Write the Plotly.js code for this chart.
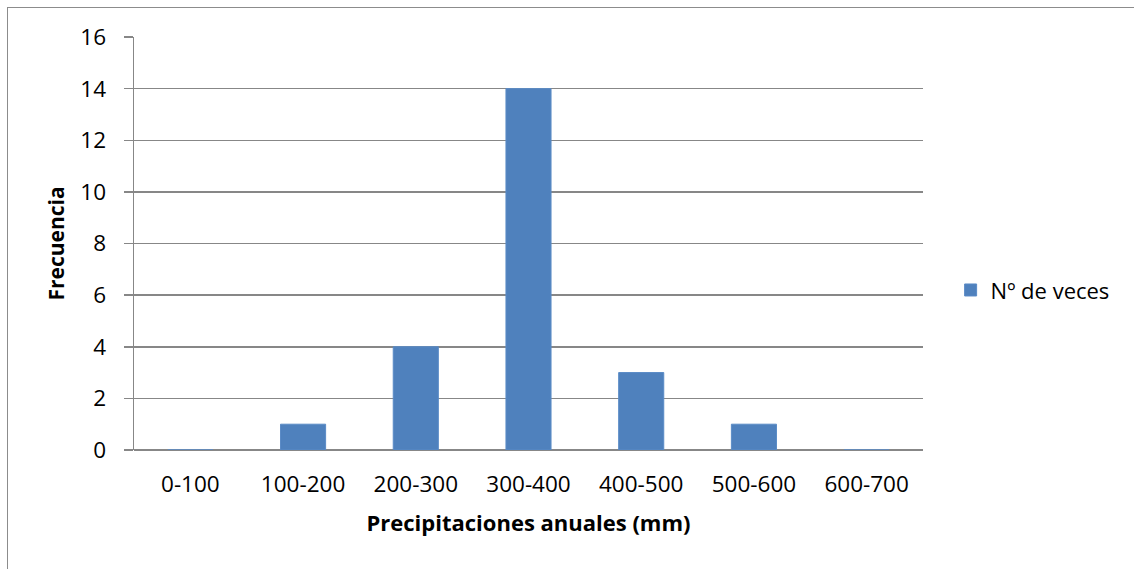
<!DOCTYPE html>
<html>
<head>
<meta charset="utf-8">
<script src="https://cdn.plot.ly/plotly-3.0.1.min.js"></script>
<style>
  html, body { margin: 0; padding: 0; background: #ffffff; overflow: hidden; }
  #chart { position: absolute; left: 0; top: 0; width: 1134px; height: 569px; }
  #frame { position: absolute; left: 7px; top: 7px; width: 1200px; height: 700px;
           border: 1.5px solid #8c8c8c; pointer-events: none; }
</style>
</head>
<body>
<div id="chart"></div>
<div id="frame"></div>
<script>
// Annual precipitation classes and how many years fell in each
const categories = ['0-100', '100-200', '200-300', '300-400', '400-500', '500-600', '600-700'];
const counts = [0, 1, 4, 14, 3, 1, 0];
const seriesName = 'Nº de veces';
const yTicks = [0, 2, 4, 6, 8, 10, 12, 14, 16];

const font = 'Open Sans, Noto Sans, sans-serif';
const gridColor = '#878787';

const trace = {
  type: 'bar',
  x: categories,
  y: counts,
  name: seriesName,
  marker: { color: '#4F81BD', line: { color: '#5a8bc6', width: 1 } },
  hoverinfo: 'x+y'
};

const layout = {
  width: 1134,
  height: 569,
  margin: { l: 134, r: 211, t: 37, b: 119 },
  paper_bgcolor: '#ffffff',
  plot_bgcolor: '#ffffff',
  font: { family: font, size: 22, color: '#000000' },
  bargap: 0.6,
  showlegend: true,
  legend: {
    x: 1.035, y: 0.387, xanchor: 'left', yanchor: 'middle',
    font: { family: font, size: 22, color: '#000000' },
    itemwidth: 30, bgcolor: 'rgba(0,0,0,0)'
  },
  xaxis: {
    type: 'category',
    tickfont: { family: font, size: 22.5 },
    showgrid: false,
    showline: false,
    ticks: '',
    ticklabelstandoff: 18,
    zeroline: false,
    title: { text: '<b>Precipitaciones anuales (mm)</b>', font: { family: font, size: 22 }, standoff: 18 }
  },
  yaxis: {
    range: [0, 16],
    tickvals: yTicks,
    ticktext: yTicks.map(String),
    tickfont: { family: font, size: 22.5 },
    showgrid: true,
    gridcolor: gridColor,
    gridwidth: 1.5,
    showline: true,
    linecolor: gridColor,
    linewidth: 1.5,
    ticks: 'outside',
    ticklen: 9,
    tickwidth: 1.5,
    tickcolor: gridColor,
    ticklabelstandoff: 13,
    zeroline: true,
    zerolinecolor: gridColor,
    zerolinewidth: 2,
    title: { text: '<b>Frecuencia</b>', font: { family: font, size: 21 }, standoff: 10 }
  }
};

Plotly.newPlot('chart', [trace], layout, { displayModeBar: false, staticPlot: true });
</script>
</body>
</html>
